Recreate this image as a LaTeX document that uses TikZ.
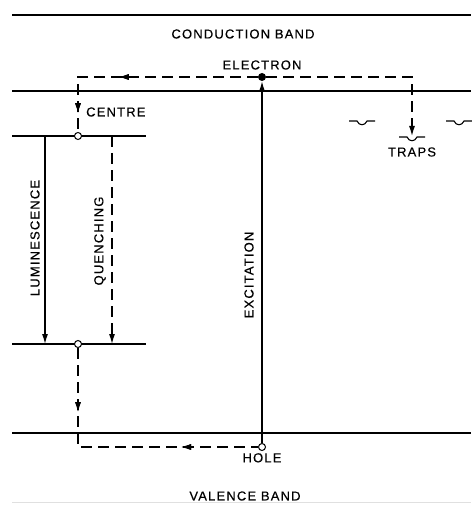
\documentclass[tikz,border=0pt]{standalone}
\usepackage{fontspec}
\setmainfont{Liberation Sans}[LetterSpace=9, FakeBold=0.4]
\usetikzlibrary{arrows.meta,decorations.markings}

\tikzset{
  bandline/.style={line width=1.2pt},
  pathline/.style={line width=1.2pt, dash pattern=on 11pt off 6pt},
  tipend/.style={-{Latex[length=10pt,width=6pt]}},
  midtip/.style={postaction={decorate}, decoration={markings,
      mark=at position #1 with {\arrow{Latex[length=10pt,width=6pt]}}}},
  midtiprev/.style={postaction={decorate}, decoration={markings,
      mark=at position #1 with {\arrowreversed{Latex[length=10pt,width=6pt]}}}},
  opendot/.style={circle, draw, line width=1pt, fill=white, inner sep=0pt, minimum size=7pt},
  filldot/.style={circle, fill=black, inner sep=0pt, minimum size=8pt},
  lbl/.style={font=\fontsize{13}{15}\selectfont, inner sep=1pt},
  traplevel/.style={line width=1.1pt}
}

\begin{document}
\begin{tikzpicture}[x=1pt, y=-1pt]
\useasboundingbox (0,0) rectangle (471,505);
% Band edges
\draw[bandline] (12,15) -- (471,15);
\draw[bandline] (12,91) -- (471,91);
\draw[bandline] (12,433) -- (471,433);
\draw[black!12, line width=0.8pt] (12,502) -- (471,502);
% Centre levels
\draw[bandline] (12,136) -- (146,136);
\draw[bandline] (12,344) -- (146,344);
% Traps
\foreach \tx/\ty in {362/121, 412/137, 459/121}{
  \draw[traplevel] (\tx-13,\ty) -- (\tx-5,\ty) .. controls (\tx-3,\ty+5) and (\tx+3,\ty+5) .. (\tx+5,\ty) -- (\tx+13,\ty);
}
\coordinate (trapmid) at (412,136);
% States
\node[filldot] (electron) at (262,77) {};
\node[opendot] (hole) at (262,447) {};
\node[opendot] (centreup) at (78,136) {};
\node[opendot] (centrelow) at (78,344) {};
\coordinate (lumtop) at (45,136);
\coordinate (lumbot) at (45,344);
\coordinate (quentop) at (112,136);
\coordinate (quenbot) at (112,344);
% Labels
\node[lbl] (cbandlbl) at (243,34) {CONDUCTION BAND};
\node[lbl] (vbandlbl) at (245,496) {VALENCE BAND};
\node[lbl, above=2pt] (electronlbl) at (electron.north) {ELECTRON};
\node[lbl, below=1pt] (holelbl) at (hole.south) {HOLE};
\node[lbl, anchor=west] (centrelbl) at (85,112) {CENTRE};
\node[lbl] (trapslbl) at (412,152) {TRAPS};
\node[lbl, rotate=90] (lumlbl) at (35,238) {LUMINESCENCE};
\node[lbl, rotate=90] (quenchlbl) at (100,241) {QUENCHING};
\node[lbl, rotate=90] (exclbl) at (249,275) {EXCITATION};
% Transitions
\draw[bandline, tipend] (hole) -- (electron);
\draw[pathline, midtip=139pt, midtip=216pt] (electron) -| (centreup);
\draw[pathline, tipend] (electron) -| (trapmid);
\draw[bandline, tipend] (lumtop) -- (lumbot);
\draw[pathline, tipend] (quentop) -- (quenbot);
\draw[pathline, midtip=64pt, midtiprev=202pt] (centrelow) |- (hole);
\end{tikzpicture}
\end{document}
